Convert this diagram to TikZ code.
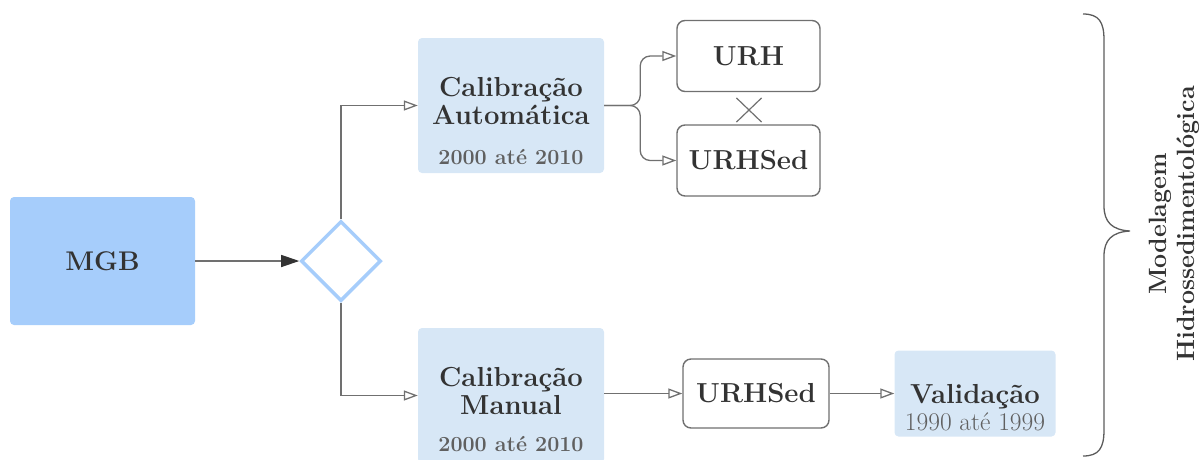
\documentclass[tikz,border=0pt]{standalone}
\usepackage{fontspec}
\usepackage{xcolor}
\usepackage{tikz}
\usetikzlibrary{arrows.meta,shapes.geometric,shapes.misc}

\definecolor{mgbblue}{HTML}{A6CDFB}
\definecolor{calblue}{HTML}{D7E7F6}
\definecolor{inkgray}{HTML}{333333}
\definecolor{dategray}{HTML}{606060}
\definecolor{linegray}{HTML}{707070}

\begin{document}
\begin{tikzpicture}[
		x=1pt,y=-1pt,
		mgbbox/.style={
			rectangle,
			rounded corners=4pt,
			fill=mgbblue,
			minimum width=185pt,
			minimum height=128pt,
			text=inkgray,
			font=\fontsize{27}{27}\selectfont\bfseries
		},
		choice/.style={
			diamond,
			aspect=1,
			draw=mgbblue,
			line width=3.5pt,
			fill=white,
			minimum size=80pt,
			inner sep=0pt
		},
		calbox/.style={
			rectangle,
			rounded corners=4pt,
			fill=calblue,
			minimum width=186pt,
			minimum height=135pt
		},
		valbox/.style={
			rectangle,
			rounded corners=4pt,
			fill=calblue,
			minimum width=161pt,
			minimum height=86pt
		},
		unitbox/.style={
			rectangle,
			rounded corners=8pt,
			draw=linegray,
			line width=1.4pt,
			fill=white,
			minimum width=143pt,
			minimum height=71pt,
			text=inkgray,
			font=\fontsize{27.5}{27}\selectfont\bfseries
		},
		boxtitle/.style={
			align=center,
			inner sep=0pt,
			text=inkgray,
			font=\fontsize{27.5}{28}\selectfont\bfseries
		},
		datelabel/.style={
			anchor=base,
			inner sep=0pt,
			text=dategray,
			font=\fontsize{21.5}{22}\selectfont\bfseries
		},
		flow/.style={
			-{Triangle[open,length=14pt,width=10pt]},
			draw=linegray,
			line width=1.3pt
		},
		feed/.style={
			-{Triangle[length=18pt,width=12pt,color=inkgray]},
			draw=linegray,
			line width=1.3pt
		}
		]
		
		\useasboundingbox (0,0) rectangle (1202,459);
		
		% model and decision
		\node[mgbbox] (mgb) at (102.5,261) {MGB};
		\node[choice] (choice) at (341,261) {};
		
		% automatic calibration branch
		\node[calbox] (auto) at (511,105.5) {};
		\node[boxtitle] (autotitle) at (511,101) {Calibração\\Automática};
		\node[datelabel] (autodate) at (511,164) {2000 até 2010};
		
		\node[unitbox] (urh) at (748.5,56) {URH};
		\node[unitbox] (urhsed) at (748.5,160.5) {URHSed};
		\node[cross out, draw=linegray, line width=1.2pt, minimum width=24pt, minimum height=23pt] (excl) at (749,110) {};
		
		% manual calibration branch
		\node[calbox] (manual) at (511,395.5) {};
		\node[boxtitle] (manualtitle) at (511,391) {Calibração\\Manual};
		\node[datelabel] (manualdate) at (511,451) {2000 até 2010};
		
		\node[unitbox, minimum width=146pt, minimum height=69pt] (urhsedman) at (756,393.5) {URHSed};
		
		\node[valbox] (valid) at (975,393.5) {};
		\node[boxtitle, anchor=base] (validtitle) at (975,403) {Validação};
		\node[datelabel, font=\fontsize{25.5}{25}\selectfont] (validdate) at (975,430) {1990 até 1999};
		
		% brace and label
		\draw[draw=inkgray!80, line width=1.3pt]
			(1083,14) .. controls (1099,14) and (1104,22) .. (1104,40)
			-- (1104,206) .. controls (1104,222) and (1112,230) .. (1130,231)
			.. controls (1112,232) and (1104,240) .. (1104,256)
			-- (1104,430) .. controls (1104,448) and (1099,456) .. (1083,456);
		\node[boxtitle, rotate=90, font=\fontsize{25}{28}\selectfont\bfseries] (model) at (1174,224) {Modelagem\\Hidrossedimentológica};
		
		\draw[feed] (mgb) -- (choice);
		\draw[flow] (choice.north) |- (auto.west);
		\draw[flow] (choice.south) |- (manual.west);
		\draw[flow, rounded corners=10pt] (auto.east) -- ++(36,0) |- (urh.west);
		\draw[flow, rounded corners=10pt] (auto.east) -- ++(36,0) |- (urhsed.west);
		\draw[flow] (manual.east |- urhsedman.west) -- (urhsedman.west);
		\draw[flow] (urhsedman) -- (valid);
		
	\end{tikzpicture}
\end{document}
